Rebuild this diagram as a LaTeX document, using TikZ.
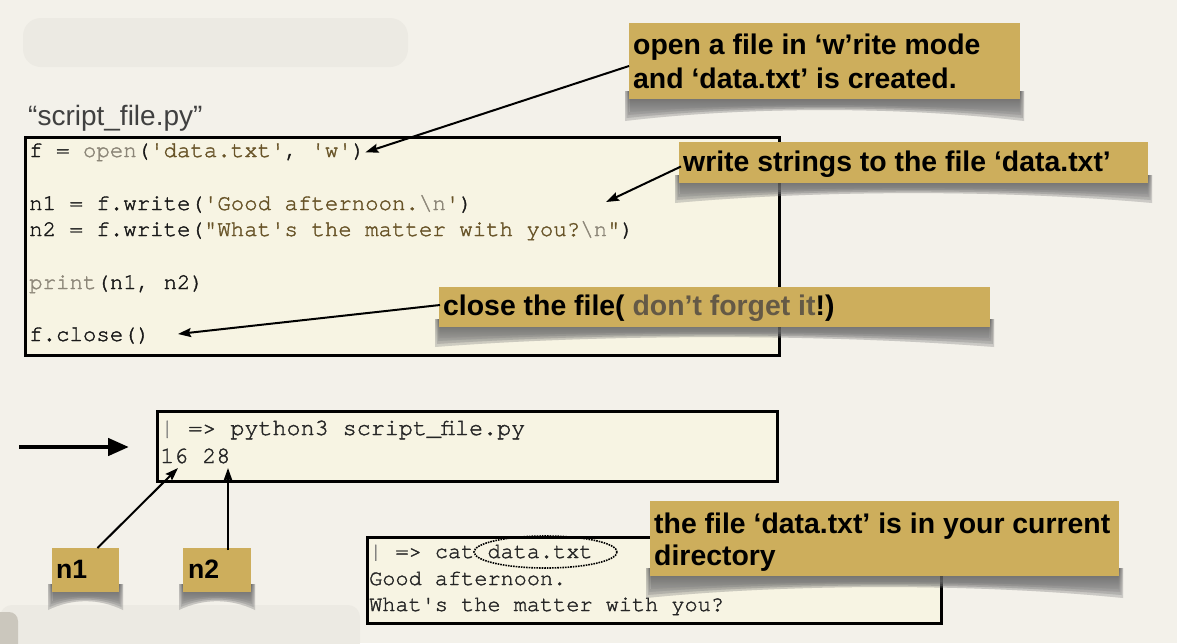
\documentclass[tikz,border=0pt]{standalone}
\usepackage{fontspec}
\setmainfont{Liberation Sans}
\newfontfamily\cour[FakeBold=1.6]{TeX Gyre Cursor}
\usetikzlibrary{arrows.meta,calc,positioning}

\definecolor{bgcol}{RGB}{243,241,234}
\definecolor{smudge}{RGB}{236,234,227}
\definecolor{blob}{RGB}{203,199,189}
\definecolor{codebg}{RGB}{247,244,227}
\definecolor{gold}{RGB}{205,174,92}
\definecolor{shade}{RGB}{84,76,60}
\definecolor{kwgray}{RGB}{140,134,120}
\definecolor{strcol}{RGB}{104,84,40}
\definecolor{hintgray}{RGB}{100,89,70}

\newcommand{\sq}{\textquotesingle}
\newcommand{\dq}{\textquotedbl}

% curled shadow under a note: left, right, bottom, depth
\newcommand{\liftshadow}[4]{%
  \foreach \e in {0,3,6,9}{
    \fill[shade, opacity=.2] (#1-4+\e*0.5,#3-8) -- (#1-4+\e*0.5,#3+#4+4-\e)
      .. controls (#1*0.7+#2*0.3,#3+#4*0.3+2-\e*0.4) and (#1*0.3+#2*0.7,#3+#4*0.3+2-\e*0.4) .. (#2+4-\e*0.5,#3+#4+4-\e)
      -- (#2+4-\e*0.5,#3-8) -- cycle;
  }
}

\tikzset{
  codebox/.style={draw=black, line width=3pt, fill=codebg, inner sep=0pt, outer sep=0pt, anchor=north west},
  notebox/.style={fill=gold, inner sep=0pt, outer sep=0pt, anchor=north west},
  notetext/.style={anchor=base west, inner sep=0pt, text=black, font=\fontsize{28.4}{33.5}\selectfont\bfseries},
  codeline/.style={anchor=base west, inner sep=0pt, text=black!90, font=\cour\fontsize{22.4}{26}\selectfont},
  runline/.style={anchor=base west, inner sep=0pt, text=black!85, font=\cour\fontsize{23.4}{28}\selectfont},
  catline/.style={anchor=base west, inner sep=0pt, text=black!85, font=\cour\fontsize{21.9}{26}\selectfont},
  pointer/.style={-{Stealth[length=13pt,width=9pt,inset=2pt]}, line width=2pt},
}

\begin{document}
\begin{tikzpicture}[x=1pt, y=-1pt]
\useasboundingbox (0,0) rectangle (1177,643);
\fill[bgcol] (0,0) rectangle (1177,643);

% blurred leftovers of the slide
\fill[smudge, rounded corners=18pt] (23,18) rectangle (408,67);
\fill[smudge, rounded corners=12pt] (0,605) rectangle (360,655);
\fill[blob, rounded corners=9pt] (-10,612) rectangle (18,655);

% file name
\node[anchor=base west, inner sep=0pt, text=black!75, font=\fontsize{28}{30}\selectfont] (scriptname) at (28,125) {“script\_file.py”};

% the script
\node[codebox, minimum width=754pt, minimum height=218pt] (codefile) at (25,137) {};
\node[codeline] (lineOpen) at (29,157) {f = \textcolor{kwgray}{open}(\textcolor{strcol}{\sq data.txt\sq}, \textcolor{strcol}{\sq w\sq})};
\node[codeline] (lineNa) at (29,210) {n1 = f.write(\textcolor{strcol}{\sq Good afternoon.}\textcolor{kwgray}{\textbackslash n}\textcolor{strcol}{\sq})};
\node[codeline] (lineNb) at (29,236) {n2 = f.write(\textcolor{strcol}{\dq What\sq s the matter with you?}\textcolor{kwgray}{\textbackslash n}\textcolor{strcol}{\dq})};
\node[codeline] (linePrint) at (29,289) {\textcolor{kwgray}{print}(n1, n2)};
\node[codeline] (lineClose) at (29,341) {f.close()};

% running it
\node[codebox, minimum width=620pt, minimum height=70pt] (runbox) at (157,411) {};
\node[runline] (runcmd) at (160,435) {\textcolor{black!55}{|} => python3 script\_file.py};
\node[runline] (runout) at (160,463) {16 28};

% looking at the file
\node[codebox, minimum width=574pt, minimum height=86pt] (catbox) at (367,537) {};
\node[catline] (catcmd) at (369,558) {\textcolor{black!55}{|} => cat data.txt};
\node[catline] (catA) at (369,585) {Good afternoon.};
\node[catline] (catB) at (369,611) {What\sq s the matter with you?};
\draw[densely dotted, line width=1.6pt] (545.5,552) ellipse [x radius=71.5, y radius=16];

% shadows of the notes
\liftshadow{629}{1020}{99}{18}
\liftshadow{679}{1148}{183}{16}
\liftshadow{439}{990}{327}{16}
\liftshadow{650}{1119}{576}{18}
\liftshadow{52}{119}{592}{14}
\liftshadow{183}{251}{592}{14}

% notes
\node[notebox, minimum width=391pt, minimum height=76pt] (openNote) at (629,23) {};
\node[notetext] (openText) at (633,54) {open a file in ‘w’rite mode};
\node[notetext] (openText2) at (633,88) {and ‘data.txt’ is created.};

\node[notebox, minimum width=469pt, minimum height=41pt] (writeNote) at (679,142) {};
\node[notetext] (writeText) at (683,171) {write strings to the file ‘data.txt’};

\node[notebox, minimum width=551pt, minimum height=40pt] (closeNote) at (439,287) {};
\node[notetext] (closeText) at (443,315) {close the file( \textcolor{hintgray}{don’t forget it}!)};

\node[notebox, minimum width=469pt, minimum height=75pt] (dirNote) at (650,501) {};
\node[notetext] (dirText) at (654,533) {the file ‘data.txt’ is in your current};
\node[notetext] (dirText2) at (654,565) {directory};

\node[notebox, minimum width=67pt, minimum height=44pt] (nOne) at (52,548) {};
\node[notetext, font=\fontsize{26.6}{28}\selectfont\bfseries] (nOneText) at (56,578) {n1};
\node[notebox, minimum width=68pt, minimum height=44pt] (nTwo) at (183,548) {};
\node[notetext, font=\fontsize{26.6}{28}\selectfont\bfseries] (nTwoText) at (188,578) {n2};

% pointers
\coordinate (writeTip) at (606,202);
\coordinate (closeTip) at (178,334);
\coordinate (oneTip) at (178,468);
\coordinate (twoTip) at (228,468);
\coordinate (runFrom) at (19,447);
\coordinate (runTo) at (129,447);

\draw[pointer] ($(openNote.west)+(0,5)$) -- (lineOpen.east);
\draw[pointer] ($(writeNote.west)+(2,4)$) -- (writeTip);
\draw[pointer] ($(closeNote.west)+(1,-2)$) -- (closeTip);
\draw[pointer] ($(nOne.north)+(12,0)$) -- (oneTip);
\draw[pointer] ($(nTwo.north)+(11,2)$) -- (twoTip);
\draw[-{Triangle[length=21pt,width=17pt]}, line width=4.5pt] (runFrom) -- (runTo);
\end{tikzpicture}
\end{document}
